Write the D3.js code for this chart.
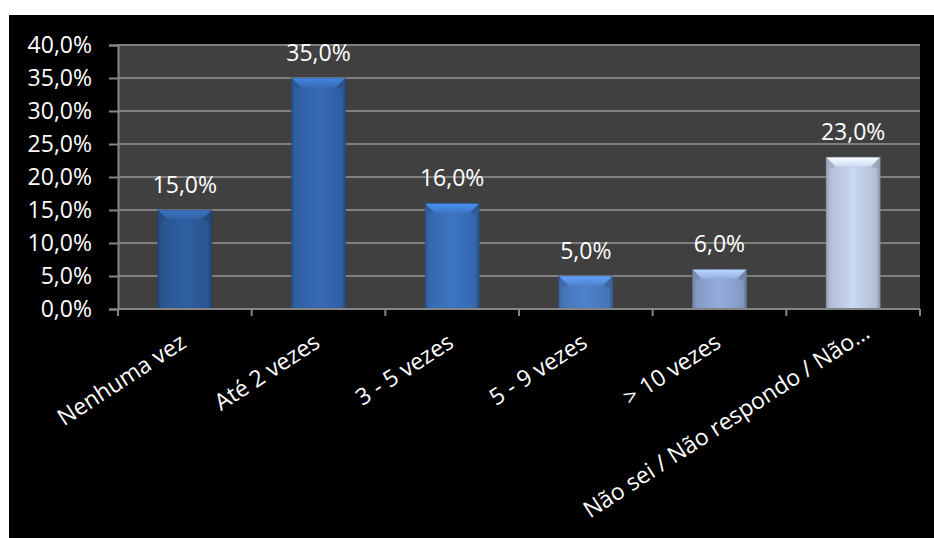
<!DOCTYPE html>
<html><head><meta charset="utf-8">
<script src="https://cdn.jsdelivr.net/npm/d3@7"></script>
<style>body{margin:0;background:#fff;overflow:hidden}</style>
</head><body><svg id="c" width="934" height="538"></svg>
<script>
const categories = ["Nenhuma vez","Até 2 vezes","3 - 5 vezes","5 - 9 vezes","> 10 vezes","Não sei / Não respondo / Não…"];
const values = [15,35,16,5,6,23];
const yTicks = [0,5,10,15,20,25,30,35,40];
const barColors = ["#2d5c9b","#3467b0","#3a71bd","#4c7ec6","#8fa7d5","#c3d0e9"];

const FONT = "'Open Sans', Carlito, Calibri, sans-serif";
const FS = "23px";
const svg = d3.select("#c");
svg.append("rect").attr("x",9).attr("y",15).attr("width",925).attr("height",523).attr("fill","#000");

const L=118, R=920, T=45, B=309;
const y = d3.scaleLinear().domain([0,40]).range([B,T]);
const x = d3.scaleBand().domain(categories).range([L,R]).padding(0);
const bw = x.bandwidth()*0.404;

svg.append("rect").attr("x",L).attr("y",T).attr("width",R-L).attr("height",B-T).attr("fill","#404040");

// grid
svg.append("g").selectAll("line").data(yTicks.filter(d=>d>0)).join("line")
  .attr("x1",L).attr("x2",R).attr("y1",d=>y(d)).attr("y2",d=>y(d))
  .attr("stroke","#7f7f7f").attr("stroke-width",2);

// y axis
const yAxis = svg.append("g").attr("transform",`translate(${L},0)`)
  .call(d3.axisLeft(y).tickValues(yTicks).tickSize(9).tickPadding(17)
    .tickFormat(d=>d.toFixed(1).replace(".",",")+"%"));
yAxis.select(".domain").attr("stroke","#868686").attr("stroke-width",2);
yAxis.selectAll(".tick line").attr("stroke","#868686").attr("stroke-width",2);
yAxis.selectAll("text").attr("fill","#fff").style("font-family",FONT).style("font-size",FS);

// defs
const defs = svg.append("defs");
barColors.forEach((c,i)=>{
  const base=d3.color(c);
  const g=defs.append("linearGradient").attr("id","gb"+i).attr("x1",0).attr("x2",1).attr("y1",0).attr("y2",0);
  [[0,base.darker(0.8)],[0.07,base.darker(0.25)],[0.5,base.brighter(0.1)],[0.93,base.darker(0.25)],[1,base.darker(0.8)]]
    .forEach(([o,col])=>g.append("stop").attr("offset",o).attr("stop-color",col));
  const gt=defs.append("linearGradient").attr("id","gt"+i).attr("x1",0).attr("x2",0).attr("y1",0).attr("y2",1);
  [[0,base.brighter(0.7)],[1,base.brighter(0.15)]]
    .forEach(([o,col])=>gt.append("stop").attr("offset",o).attr("stop-color",col));
});

const bars = svg.append("g").selectAll("g").data(values).join("g");
bars.each(function(v,i){
  const g=d3.select(this);
  const cx=x(categories[i])+x.bandwidth()/2;
  const x0=cx-bw/2, x1=cx+bw/2, yt=y(v), yb=y(0);
  const b=Math.min(9,(yb-yt)/2);
  const base=d3.color(barColors[i]);
  g.append("rect").attr("x",x0).attr("y",yt).attr("width",bw).attr("height",yb-yt).attr("fill",`url(#gb${i})`);
  g.append("polygon").attr("points",[[x0,yt],[x1,yt],[x1-b,yt+b],[x0+b,yt+b]].map(p=>p.join(",")).join(" "))
    .attr("fill",`url(#gt${i})`);
  g.append("polygon").attr("points",[[x0,yt],[x0+b,yt+b],[x0+2.5,yt+b+3],[x0+2.5,yb],[x0,yb]].map(p=>p.join(",")).join(" "))
    .attr("fill",base.darker(0.5)).attr("fill-opacity",0.8);
  g.append("polygon").attr("points",[[x1,yt],[x1-b,yt+b],[x1-2.5,yt+b+3],[x1-2.5,yb],[x1,yb]].map(p=>p.join(",")).join(" "))
    .attr("fill",base.darker(0.7)).attr("fill-opacity",0.8);
  g.append("rect").attr("x",x0).attr("y",yt).attr("width",bw).attr("height",yb-yt)
    .attr("fill","none").attr("stroke",base.darker(1.4)).attr("stroke-width",1).attr("stroke-opacity",0.5);
  g.append("text").attr("x",cx).attr("y",yt-17).attr("text-anchor","middle")
    .attr("fill","#fff").style("font-family",FONT).style("font-size",FS)
    .text(v.toFixed(1).replace(".",",")+"%");
});

// x axis
svg.append("line").attr("x1",L).attr("x2",R).attr("y1",B).attr("y2",B).attr("stroke","#868686").attr("stroke-width",2);
const edges = categories.map(c=>x(c)).concat([R]);
svg.append("g").selectAll("line").data(edges).join("line")
  .attr("x1",d=>d).attr("x2",d=>d).attr("y1",B).attr("y2",B+7)
  .attr("stroke","#868686").attr("stroke-width",2);
const ANG = 33;
svg.append("g").selectAll("text").data(categories).join("text")
  .attr("transform",d=>`translate(${x(d)+x.bandwidth()/2+3},346) rotate(${-ANG})`)
  .attr("dx",d=>d.endsWith("…")?18:0)
  .attr("text-anchor","end").attr("fill","#fff")
  .style("font-family",FONT).style("font-size",FS).text(d=>d);
</script></body></html>
